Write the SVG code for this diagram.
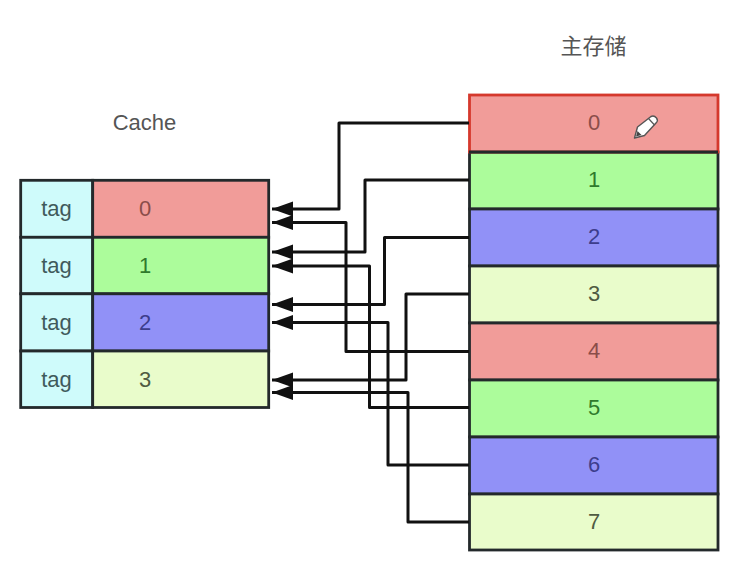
<svg xmlns="http://www.w3.org/2000/svg" width="733" height="572" viewBox="0 0 733 572">
<style>
text{font-family:"Liberation Sans","Noto Sans CJK SC",sans-serif;font-size:22px;text-anchor:middle;dominant-baseline:central}
.title{fill:#555}
.box{stroke:#23292b;stroke-width:2.8}
.tag{fill:#cffbfb}.r{fill:#f19c99}.g{fill:#acfc9b}.b{fill:#9191f7}.y{fill:#e9fccb}
.tt{fill:#3f5a5c}.tr{fill:#8a4d49}.tg{fill:#2f7a2c}.tb{fill:#3d3d8c}.ty{fill:#4f5b42}
.c{fill:none;stroke:#111;stroke-width:3;stroke-linejoin:round;marker-end:url(#a)}
</style>
<defs>
<marker id="a" markerUnits="userSpaceOnUse" markerWidth="23" markerHeight="18" refX="21" refY="9" orient="auto">
<path d="M0 1.500L21 9L0 16.500Z" fill="#111"/>
</marker>
</defs>
<rect width="733" height="572" fill="#fff"/>
<text class="title" x="144.500" y="122.500">Cache</text>
<text class="title" x="593.500" y="46.500">主存储</text>
<g id="cache-0"><rect class="box tag" x="20.700" y="180.300" width="72" height="57"/><rect class="box r" x="92.700" y="180.300" width="176" height="57"/><text class="tt" x="56.500" y="208.500">tag</text><text class="tr" x="145" y="208.500">0</text></g>
<g id="cache-1"><rect class="box tag" x="20.700" y="237.300" width="72" height="56.500"/><rect class="box g" x="92.700" y="237.300" width="176" height="56.500"/><text class="tt" x="56.500" y="265.500">tag</text><text class="tg" x="145" y="265.500">1</text></g>
<g id="cache-2"><rect class="box tag" x="20.700" y="293.800" width="72" height="57.200"/><rect class="box b" x="92.700" y="293.800" width="176" height="57.200"/><text class="tt" x="56.500" y="322.500">tag</text><text class="tb" x="145" y="322">2</text></g>
<g id="cache-3"><rect class="box tag" x="20.700" y="351" width="72" height="56.500"/><rect class="box y" x="92.700" y="351" width="176" height="56.500"/><text class="tt" x="56.500" y="379.500">tag</text><text class="ty" x="145" y="379">3</text></g>
<g id="mem-1"><rect class="box g" x="469.500" y="152" width="248.500" height="57"/><text class="tg" x="594" y="179.500">1</text></g>
<g id="mem-2"><rect class="box b" x="469.500" y="209" width="248.500" height="57"/><text class="tb" x="594" y="236.500">2</text></g>
<g id="mem-3"><rect class="box y" x="469.500" y="266" width="248.500" height="57"/><text class="ty" x="594" y="293.500">3</text></g>
<g id="mem-4"><rect class="box r" x="469.500" y="323" width="248.500" height="57"/><text class="tr" x="594" y="350.500">4</text></g>
<g id="mem-5"><rect class="box g" x="469.500" y="380" width="248.500" height="57"/><text class="tg" x="594" y="407.500">5</text></g>
<g id="mem-6"><rect class="box b" x="469.500" y="437" width="248.500" height="57"/><text class="tb" x="594" y="464.500">6</text></g>
<g id="mem-7"><rect class="box y" x="469.500" y="494" width="248.500" height="56"/><text class="ty" x="594" y="521.500">7</text></g>
<g id="mem-0"><rect class="box r" style="stroke:#d5392d" x="469.500" y="95" width="248.500" height="57"/><path d="M469 152H718" stroke="#23292b" stroke-width="2.800"/><text class="tr" x="594" y="122.500">0</text>
<path d="M634.500 138L637.500 127L651 116.500Q654 115 656.500 118Q658.500 120.500 656 123L644.500 135.500Z" fill="#fff" stroke="#555" stroke-width="1.400" stroke-linejoin="round"/><path d="M636 136.500L637.500 131L641.500 135Z" fill="#444"/><path d="M648.500 118.500L654.500 125" stroke="#555" stroke-width="1.200" fill="none"/></g>
<g id="connectors">
<path class="c" d="M469 123H339V209H272"/>
<path class="c" d="M469 180H365V252H272"/>
<path class="c" d="M469 237.500H384.500V304.500H272"/>
<path class="c" d="M469 294H406V380H272"/>
<path class="c" d="M469 351.500H346V222.500H272"/>
<path class="c" d="M469 407.500H369.500V266H272"/>
<path class="c" d="M469 465H388V322.500H272"/>
<path class="c" d="M469 522H408V392.500H272"/>
</g>
</svg>
